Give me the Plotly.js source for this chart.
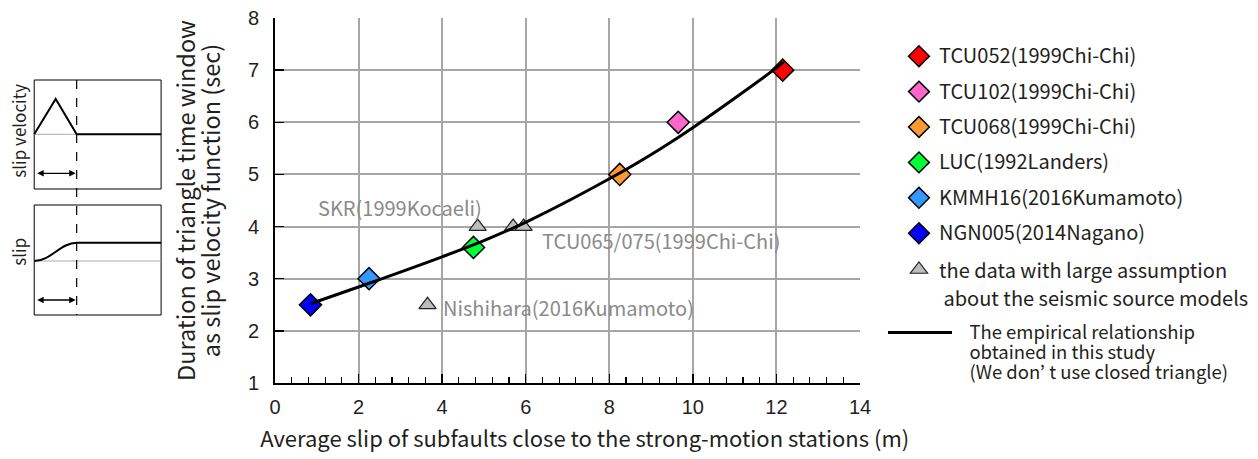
<!DOCTYPE html>
<html><head><meta charset="utf-8">
<script src="https://cdn.plot.ly/plotly-3.0.1.min.js"></script>
<style>html,body{margin:0;padding:0;background:#fff}</style>
</head><body><div id="chart" style="width:1258px;height:459px"></div>
<script>
// ---- data ----
const stationNames = ['TCU052(1999Chi-Chi)', 'TCU102(1999Chi-Chi)', 'TCU068(1999Chi-Chi)', 'LUC(1992Landers)', 'KMMH16(2016Kumamoto)', 'NGN005(2014Nagano)'];
const stationSlip = [12.15, 9.65, 8.25, 4.75, 2.25, 0.85];
const stationDuration = [7.0, 6.0, 5.0, 3.6, 3.0, 2.5];

const assumedSlip = [4.85, 5.7, 5.95, 3.65];
const assumedDuration = [4.0, 4.0, 4.0, 2.5];
const assumedLegendLines = ['the data with large assumption', '&nbsp;about the seismic source models'];

const assumedLabels = ['SKR(1999Kocaeli)', 'TCU065/075(1999Chi-Chi)', 'Nishihara(2016Kumamoto)'];
const assumedLabelX = [0.97, 6.33, 3.98];
const assumedLabelY = [4.36, 3.74, 2.45];

const curveSlip = [0.85, 2.1, 4.0, 5.0, 6.07, 8.1, 9.2, 10.06, 12.09, 12.17];
const curveDuration = [2.52, 2.87, 3.42, 3.73, 4.11, 4.96, 5.48, 5.93, 7.1, 7.16];
const curveLegendLines = ['The empirical relationship', 'obtained in this study', '(We don’ t use closed triangle)'];

const xTickVals = [0, 2, 4, 6, 8, 10, 12, 14];
const yTickVals = [1, 2, 3, 4, 5, 6, 7, 8];

// ---- styles ----
const stationColors = ['#ff0000', '#ff66cc', '#ff9933', '#00ff33', '#3399ff', '#0000ff'];
const FONT = '"Noto Sans CJK JP", "Noto Sans", sans-serif';
const TXT = '#231f20';
const big = (s, sz) => `<span style="font-size:${sz}px">${s}</span>`;

const traces = [];
stationNames.forEach((n, i) => {
  traces.push({
    type: 'scatter', mode: 'markers', name: big(n, 20), legendgroup: n,
    x: [stationSlip[i]], y: [stationDuration[i]],
    marker: {symbol: 'diamond', size: 17, color: stationColors[i], line: {color: '#000', width: 1.5}}
  });
});
traces.push({
  type: 'scatter', mode: 'markers', name: assumedLegendLines.map(s => big(s, 20)).join('<br>'),
  legend: 'legend3',
  x: assumedSlip, y: assumedDuration,
  marker: {symbol: 'triangle-up', size: 15, color: '#bdbdbd', line: {color: '#222', width: 1.2}}
});
traces.push({
  type: 'scatter', mode: 'lines', name: curveLegendLines.map(s => big('&nbsp;&nbsp;&nbsp;' + s, 18.5)).join('<br>'),
  legend: 'legend2',
  x: curveSlip, y: curveDuration,
  line: {color: '#000', width: 3, shape: 'spline', smoothing: 1}
});

// pixel -> paper helpers (plot area: x 274.5..860, y 18..383)
const L = 274.5, R = 860, T = 18, B = 383;
const px = v => (v - L) / (R - L);
const py = v => (B - v) / (B - T);

const shapes = [
  {type: 'rect', xref: 'paper', yref: 'paper', x0: px(33.5), x1: px(160.5), y0: py(189), y1: py(80), line: {color: '#000', width: 1}},
  {type: 'rect', xref: 'paper', yref: 'paper', x0: px(33.5), x1: px(160.5), y0: py(315), y1: py(205), line: {color: '#000', width: 1}},
  {type: 'line', xref: 'paper', yref: 'paper', x0: px(33.5), x1: px(160.5), y0: py(134.3), y1: py(134.3), line: {color: '#aaa', width: 1}},
  {type: 'line', xref: 'paper', yref: 'paper', x0: px(33.5), x1: px(160.5), y0: py(261), y1: py(261), line: {color: '#aaa', width: 1}},
  {type: 'path', xref: 'paper', yref: 'paper',
   path: `M${px(33.5)},${py(134.3)} L${px(55)},${py(99)} L${px(76)},${py(134.3)} L${px(160.5)},${py(134.3)}`,
   line: {color: '#000', width: 2}},
  {type: 'path', xref: 'paper', yref: 'paper',
   path: `M${px(33.5)},${py(261)} C${px(50)},${py(261)} ${px(60)},${py(242.7)} ${px(76)},${py(242.7)} L${px(160.5)},${py(242.7)}`,
   line: {color: '#000', width: 2}},
  {type: 'line', xref: 'paper', yref: 'paper', x0: px(76), x1: px(76), y0: py(80), y1: py(315), line: {color: '#000', width: 1.2, dash: 'dash'}}
];

const annotations = assumedLabels.map((t, i) => ({
  x: assumedLabelX[i], y: assumedLabelY[i], xref: 'x', yref: 'y', text: t, showarrow: false,
  xanchor: 'left', yanchor: 'middle', font: {family: FONT, size: 20, color: '#8a8a8a'}
}));
[173.3, 300].forEach(yy => annotations.push({
  xref: 'paper', yref: 'paper', x: px(75), y: py(yy), ax: -40, ay: 0, text: '',
  showarrow: true, arrowside: 'end+start', arrowhead: 2, arrowsize: 1, arrowwidth: 1.3, arrowcolor: '#000', standoff: 0, startstandoff: 0
}));
annotations.push({xref: 'paper', yref: 'paper', x: px(17), y: py(131), text: 'slip velocity', textangle: -90,
  xanchor: 'center', yanchor: 'middle', showarrow: false, font: {family: FONT, size: 17, color: TXT}});
annotations.push({xref: 'paper', yref: 'paper', x: px(17), y: py(252), text: 'slip', textangle: -90,
  xanchor: 'center', yanchor: 'middle', showarrow: false, font: {family: FONT, size: 17, color: TXT}});

const legendCommon = {xanchor: 'left', yanchor: 'top', valign: 'top', bgcolor: 'rgba(0,0,0,0)'};
const layout = {
  width: 1258, height: 459,
  margin: {l: L, r: 1258 - R, t: T, b: 459 - B, autoexpand: false},
  paper_bgcolor: '#fff', plot_bgcolor: '#fff',
  showlegend: true,
  legend: Object.assign({x: px(899), y: py(38), tracegroupgap: 9,
    font: {family: FONT, size: 18, color: TXT}}, legendCommon),
  legend3: Object.assign({x: px(899), y: py(249),
    font: {family: FONT, size: 21.5, color: TXT}}, legendCommon),
  legend2: Object.assign({x: px(883), y: py(316), itemwidth: 64,
    font: {family: FONT, size: 15.4, color: TXT}}, legendCommon),
  xaxis: {range: [0, 14], tickvals: xTickVals, ticks: 'inside', ticklen: 9, tickwidth: 1.5, tickcolor: '#000',
    showline: true, linecolor: '#000', linewidth: 2, showgrid: true, gridcolor: '#a6a6a6', gridwidth: 2, zeroline: false,
    tickfont: {family: 'Liberation Sans, Arial', size: 20, color: TXT}, ticklabelstandoff: 5,
    minor: {dtick: 0.4, ticks: 'inside', ticklen: 6, tickwidth: 1.2, tickcolor: '#000', showgrid: false},
    title: {text: '&nbsp;&nbsp;&nbsp;&nbsp;&nbsp;&nbsp;&nbsp;Average slip of subfaults close to the strong-motion stations (m)', standoff: 15,
      font: {family: FONT, size: 22, color: TXT}}},
  yaxis: {range: [1, 8], tickvals: yTickVals, ticks: 'inside', ticklen: 9, tickwidth: 1.5, tickcolor: '#000',
    showline: true, linecolor: '#000', linewidth: 2, showgrid: true, gridcolor: '#a6a6a6', gridwidth: 2, zeroline: false,
    tickfont: {family: 'Liberation Sans, Arial', size: 20, color: TXT}, ticklabelstandoff: 10,
    title: {text: big('Duration of triangle time window', 23.5) + '<br>' + big('as slip velocity function (sec)', 23.5), standoff: 22,
      font: {family: FONT, size: 19.2, color: TXT}}},
  shapes: shapes,
  annotations: annotations
};

Plotly.newPlot('chart', traces, layout, {displayModeBar: false, staticPlot: true});
</script></body></html>
